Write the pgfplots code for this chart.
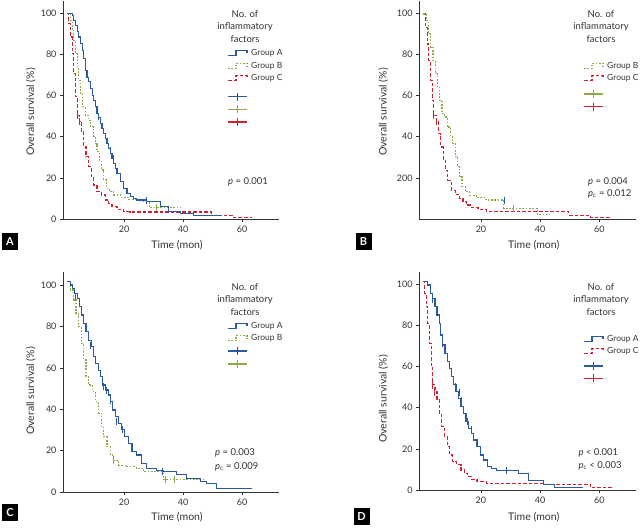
\documentclass[border=0pt]{standalone}
\usepackage{fontspec}
\setmainfont{Lato}
\usepackage{pgfplots}
\pgfplotsset{compat=1.18}
\definecolor{cA}{HTML}{2C5AA0}
\definecolor{cB}{HTML}{8DAA4B}
\definecolor{cC}{HTML}{CE2233}
\definecolor{txt}{HTML}{333333}
\pgfplotsset{
  km/.style={scale only axis, axis lines=left,
    axis line style={txt, line width=0.7pt, -},
    tick style={txt, line width=0.6pt}, tick align=outside, major tick length=3pt,
    xtick={20,40,60}, ytick={0,20,40,60,80,100}, ymin=0, ymax=106,
    ticklabel style={font=\fontsize{9}{10}\selectfont, text=txt},
    /pgf/number format/assume math mode=true, clip=false},
  gA/.style={cA, line width=1.15pt, const plot},
  gB/.style={cB, line width=1.15pt, const plot, dash pattern=on 1.7pt off 1.6pt},
  gC/.style={cC, line width=1.15pt, const plot, dash pattern=on 3.6pt off 2pt},
  cens/.style={only marks, mark=|, mark size=3.5pt, mark options={solid, line width=1pt}}
}
\newcommand{\samp}[3]{\draw[#1, line width=1.15pt] (#2) ++(0,-2.5pt) -- ++(8pt,0) -- ++(0,5pt) -- ++(11pt,0) -- ++(0,-2.5pt);}
\newcommand{\csamp}[2]{\draw[#1, line width=1.1pt] (#2) -- ++(19pt,0); \draw[#1, line width=1.1pt] (#2) ++(9.5pt,-4pt) -- ++(0,8pt);}
\newcommand{\ttl}{No. of\\inflammatory\\factors}
\tikzset{lab/.style={text=txt, font=\fontsize{10.5}{12}\selectfont},
  leg/.style={text=txt, font=\fontsize{8.5}{10}\selectfont, anchor=west, inner sep=0},
  tit/.style={text=txt, font=\fontsize{9.5}{12.5}\selectfont, align=center},
  pv/.style={text=txt, font=\fontsize{9.5}{11}\selectfont, anchor=west, inner sep=0},
  box/.style={fill=black, text=white, font=\bfseries\fontsize{11}{11}\selectfont, minimum width=16pt, minimum height=17pt, inner sep=0}}
\begin{document}
\begin{tikzpicture}
\useasboundingbox (0pt,0pt) rectangle (643pt,529pt);
% ---------- A ----------
\begin{axis}[km, at={(63pt,310pt)}, anchor=south west, width=216pt, height=218pt, xmin=-0.7, xmax=72.5]
\addplot[gC] coordinates {(0.7,100)(1.2,95)(1.8,88.5)(2.4,80.4)(3,70.7)(3.5,59.4)(4.1,50.5)(4.9,47.2)(5.5,42.4)(6.3,35)(7.1,30.2)(8,25.4)(8.9,20.6)(9.7,16.5)(10.8,13.3)(12.3,11.7)(13.7,9.2)(14.8,7.6)(15.9,6)(17.6,4.7)(19.9,3.6)(22,3.4)(49.7,1.9)(57,0.8)(63.5,0.8)};
\addplot[gB] coordinates {(0.7,100)(1.8,96.6)(2.4,91.7)(3,86.9)(3.5,80.4)(4.1,74)(4.6,67.5)(5.2,61)(6,54.5)(6.9,50.5)(7.8,48)(8.6,44.8)(9.7,40)(10.3,36.7)(10.8,32.7)(11.6,28.6)(12.3,23.8)(13.1,19)(13.9,14.9)(15,13.3)(16.5,11.7)(18.8,10.5)(21.6,9.5)(24.1,9.2)(26,8.4)(28.5,5.7)(39,5.7)};
\addplot[gA] coordinates {(0.7,99.8)(2.4,99)(3,96.6)(3.5,94.2)(4.1,91)(4.6,88.5)(5.2,85.3)(5.8,82)(6.3,78)(6.9,72.3)(7.5,69)(8,66.7)(8.6,63.4)(9.2,60.2)(9.7,57.8)(10.3,54.5)(10.8,51.3)(11.4,49.4)(12,46.4)(12.5,44)(13.1,41.6)(13.7,39.2)(14.2,36.7)(14.8,34.3)(15.4,31.9)(15.9,29.4)(16.5,27)(17.1,24.6)(17.6,22.2)(18.8,18.1)(19.9,14.9)(21,12.5)(22.1,10.8)(23.3,10)(24.1,9.2)(27.7,8.4)(32.2,6)(35,3.5)(39,2.8)(43.5,1.5)(53,1.5)};
\addplot[cens, cC] coordinates {(4.1,50.2)(4.9,47.2)};
\addplot[cens, cB] coordinates {(31,5.7)};
\addplot[cens, cA] coordinates {(7.1,70.4)(11.4,49.7)(15.4,33.5)(16.5,29.4)(27.5,9.2)};
\end{axis}
% ---------- B ----------
\begin{axis}[km, at={(419pt,310pt)}, anchor=south west, width=217pt, height=218pt, xmin=-0.95, xmax=72.4,
  ytick={20,40,60,80,100}, yticklabels={200,40,60,80,100}]
\addplot[gC] coordinates {(0.4,99.7)(1.2,93.2)(1.9,85.1)(2.4,77)(3,67.4)(3.6,57.7)(4,50.4)(4.9,47.2)(5.7,41.5)(6.4,35)(7.2,28.6)(7.9,23.7)(8.8,18.9)(10,14)(11.3,12.1)(12.8,10)(13.9,8.4)(15,6.8)(16.7,5.7)(19,4.7)(21.8,3.6)(49.7,1.9)(57,0.8)(63.5,0.8)};
\addplot[gB] coordinates {(0.4,99.7)(1.5,96.4)(2.3,90)(3,83.5)(3.8,77)(4.6,70.6)(5.2,64)(6,57.7)(6.8,51.2)(7.7,49.6)(8.6,44.7)(9.8,40)(10.5,36.7)(11.3,30.2)(12.2,25.4)(12.8,20.5)(13.6,15.7)(14.7,13.2)(16.2,11.6)(18.4,10.5)(21.2,9.5)(22,9.2)(27.7,5.2)(39,2.2)(43.2,2.2)};
\addplot[cens, cC] coordinates {(4,50.2)(4.9,47.2)};
\addplot[cens, cB] coordinates {(31,5.2)};
\addplot[cens, cA] coordinates {(27.8,9.2)};
\end{axis}
% ---------- C ----------
\begin{axis}[km, at={(63pt,37pt)}, anchor=south west, width=216pt, height=220pt, xmin=-0.7, xmax=72.5, ymax=106.3]
\addplot[gB] coordinates {(0.7,101.6)(1.8,97.6)(2.9,92.8)(3.7,86.3)(4.6,79.9)(5.5,71.8)(6.3,63.8)(7.1,55.7)(8,51.7)(9.2,48.5)(10.3,43.6)(11.4,38)(12.3,31.6)(13.1,26.7)(14.2,21.9)(15.4,17.9)(16.5,15.1)(18.2,13)(20.5,12.2)(24.1,11.4)(26.6,9.7)(33.3,6.1)(47.5,6.1)};
\addplot[gA] coordinates {(0.7,101.6)(1.8,100)(2.6,98.4)(3.3,96)(4.1,93.6)(4.9,89.5)(5.5,85.5)(6.3,81.5)(7.1,77.5)(8,73.4)(8.9,70.2)(9.7,65.4)(10.3,62.2)(11.2,58.9)(12,55.7)(12.8,51.7)(13.7,49.3)(14.6,46.9)(15.4,43.6)(16.2,39.6)(17.1,36.4)(18,33.2)(19.1,30)(20.2,26.7)(21.4,23.5)(22.7,19.5)(24.1,17.9)(26,13.7)(27.7,11.3)(31,10.5)(33.3,9.7)(37.9,8.5)(41.2,6.5)(45.8,5.2)(48,4)(51.4,1.6)(63.3,1.6)};
\addplot[cens, cB] coordinates {(16.5,15.1)(34,6.1)(37,6.1)};
\addplot[cens, cA] coordinates {(3.7,94.4)(8.6,71)(13.1,51.2)(14.2,49)(15.4,44)(17.6,34)(19.3,30)(33,9.7)};
\end{axis}
% ---------- D ----------
\begin{axis}[km, at={(419pt,39pt)}, anchor=south west, width=217pt, height=218pt, xmin=-0.9, xmax=72.4]
\addplot[gC] coordinates {(0.3,101.3)(0.9,95.6)(1.5,89.1)(2,81)(2.6,71.3)(3.2,60)(3.7,51.1)(4.5,47.8)(5.2,43.8)(6,37.3)(6.8,30.8)(7.7,25.9)(8.6,21.1)(9.4,17)(10.5,13.8)(11.9,12.2)(13.3,9.7)(14.4,8.1)(15.6,6.5)(17,5.2)(18.7,4.1)(22,3.2)(41,2.8)(56.9,1.1)(64.8,1.1)};
\addplot[gA] coordinates {(0.3,101.3)(2,99.7)(2.9,95.6)(3.7,93.2)(4.5,89.1)(5.2,85.1)(6,81)(6.5,75.4)(7.1,70.5)(7.9,66.5)(8.6,62.4)(9.4,59.2)(10.2,55.1)(10.8,51.1)(11.6,47.8)(12.4,44.6)(13.3,40.5)(14.2,37.3)(15,33.2)(15.8,30)(16.7,27.6)(17.6,24.3)(18.7,21.1)(19.9,17)(21,14.6)(22.3,11.3)(23.7,10.5)(25.3,9.4)(32.6,8.1)(36,4.5)(41.1,2.8)(45,1.1)(54.6,1.1)};
\addplot[cens, cC] coordinates {(3.7,51)(4.5,47.3)};
\addplot[cens, cA] coordinates {(3.7,92.7)(7.1,71)(11.3,50.2)(12.8,47.3)(13.3,43.3)(15.4,33.2)(16.7,29.2)(28.7,9.4)};
\end{axis}
% ---------- labels ----------
\node[lab] at (177pt,283.4pt) {Time (mon)};
\node[lab] at (533.7pt,283.4pt) {Time (mon)};
\node[lab] at (177pt,11.7pt) {Time (mon)};
\node[lab] at (533.7pt,11.7pt) {Time (mon)};
\node[lab, rotate=90] at (30.7pt,417pt) {Overall survival (\%)};
\node[lab, rotate=90] at (383.3pt,417pt) {Overall survival (\%)};
\node[lab, rotate=90] at (30.7pt,138pt) {Overall survival (\%)};
\node[lab, rotate=90] at (383.3pt,130pt) {Overall survival (\%)};
\node[box] at (10pt,287.5pt) {A};
\node[box] at (363.5pt,287.5pt) {B};
\node[box] at (10pt,16pt) {C};
\node[box] at (361.5pt,12.5pt) {D};
% legend A
\node[tit] at (245pt,502.5pt) {\ttl};
\samp{cA}{228pt,476pt}{} \node[leg] at (251pt,476pt) {Group A};
\samp{cB, dash pattern=on 1.7pt off 1.6pt}{228pt,463.3pt}{} \node[leg] at (251pt,463.3pt) {Group B};
\samp{cC, dash pattern=on 3.6pt off 2pt}{228pt,451.3pt}{} \node[leg] at (251pt,451.3pt) {Group C};
\csamp{cA}{228pt,432.3pt}
\csamp{cB}{228pt,419.7pt}
\csamp{cC}{228pt,407pt}
\node[pv] at (228pt,347pt) {\textit{p} = 0.001};
% legend B
\node[tit] at (601pt,502.5pt) {\ttl};
\samp{cB, dash pattern=on 1.7pt off 1.6pt}{584pt,463.3pt}{} \node[leg] at (607pt,463.3pt) {Group B};
\samp{cC, dash pattern=on 3.6pt off 2pt}{584pt,451.3pt}{} \node[leg] at (607pt,451.3pt) {Group C};
\csamp{cB}{584pt,435pt}
\csamp{cC}{584pt,422.3pt}
\node[pv] at (588pt,347.3pt) {\textit{p} = 0.004};
\node[pv] at (588pt,334.7pt) {\textit{p}\textsubscript{\textit{c}} = 0.012};
% legend C
\node[tit] at (245pt,229.7pt) {\ttl};
\samp{cA}{228pt,203pt}{} \node[leg] at (251pt,203pt) {Group A};
\samp{cB, dash pattern=on 1.7pt off 1.6pt}{228pt,190.7pt}{} \node[leg] at (251pt,190.7pt) {Group B};
\csamp{cA}{228pt,178pt}
\csamp{cB}{228pt,165pt}
\node[pv] at (215pt,75.7pt) {\textit{p} = 0.003};
\node[pv] at (215pt,62pt) {\textit{p}\textsubscript{\textit{c}} = 0.009};
% legend D
\node[tit] at (601pt,229.7pt) {\ttl};
\samp{cA}{584pt,190.3pt}{} \node[leg] at (607pt,190.3pt) {Group A};
\samp{cC, dash pattern=on 3.6pt off 2pt}{584pt,178.3pt}{} \node[leg] at (607pt,178.3pt) {Group C};
\csamp{cA}{584pt,163pt}
\csamp{cC}{584pt,150.7pt}
\node[pv] at (578.3pt,76.3pt) {\textit{p} < 0.001};
\node[pv] at (578.3pt,63pt) {\textit{p}\textsubscript{\textit{c}} < 0.003};
\end{tikzpicture}
\end{document}
